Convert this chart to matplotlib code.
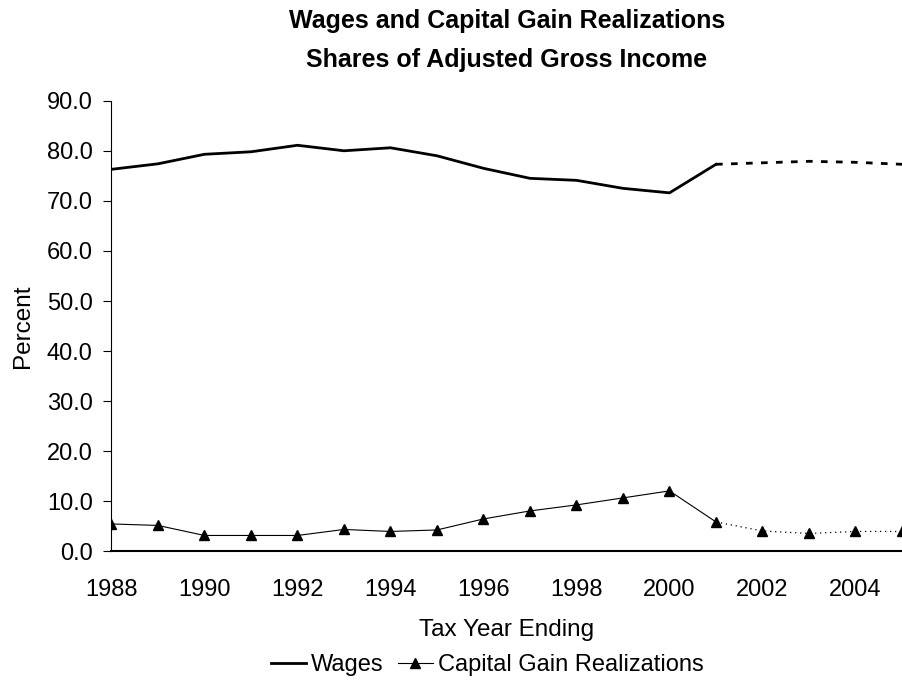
'''
Wages and capital gain realizations as shares of AGI.
'''

import matplotlib
matplotlib.use('Agg')
import matplotlib.pyplot as plt
from matplotlib.lines import Line2D

years = list(range(1988, 2006))
wages = [76.3, 77.4, 79.3, 79.8, 81.1, 80.0, 80.6, 79.0, 76.5, 74.5,
         74.1, 72.5, 71.6, 77.3, 77.6, 77.9, 77.7, 77.3]
cap_gains = [5.5, 5.2, 3.2, 3.2, 3.2, 4.4, 4.0, 4.3, 6.5, 8.1,
             9.3, 10.7, 12.1, 5.9, 4.1, 3.6, 4.0, 4.0]
split_year = 2001  # actual data up to here, projections after

title_lines = ['Wages and Capital Gain Realizations',
               'Shares of Adjusted Gross Income']
y_ticks = [0, 10, 20, 30, 40, 50, 60, 70, 80, 90]
x_ticks = list(range(1988, 2005, 2))


def main():
    plt.rcParams['font.family'] = ['Liberation Sans', 'DejaVu Sans']

    fig = plt.figure(figsize=(9.02, 6.85), dpi=100)
    ax = fig.add_axes([0.1236, 0.1949, 0.8764, 0.6581])

    k = years.index(split_year) + 1

    # Wages: solid for actuals, dashed for projections
    ax.plot(years[:k], wages[:k], color='black', lw=2.0)
    ax.plot(years[k - 1:], wages[k - 1:], color='black', lw=2.0,
            dashes=(2.4, 3.0))

    # Capital gains: thin line with triangles, dotted after 2001
    ax.plot(years[:k], cap_gains[:k], color='black', lw=0.8)
    ax.plot(years[k - 1:], cap_gains[k - 1:], color='black', lw=0.9,
            linestyle=(0, (1, 3)))
    ax.plot(years, cap_gains, linestyle='none', marker='^', color='black',
            markersize=7.5)

    ax.set_xlim(1988, 2005)
    ax.set_ylim(0, 90)
    ax.set_yticks(y_ticks)
    ax.set_yticklabels(['%.1f' % v for v in y_ticks])
    ax.set_xticks(x_ticks)
    ax.tick_params(axis='y', direction='out', length=5.5, width=0.8, pad=8,
                   labelsize=17)
    ax.tick_params(axis='x', length=0, pad=20, labelsize=17)

    for side in ['top', 'right']:
        ax.spines[side].set_visible(False)
    ax.spines['bottom'].set_linewidth(1.5)
    ax.spines['left'].set_linewidth(0.8)

    ax.set_xlabel('Tax Year Ending', fontsize=17.5, labelpad=13)
    ax.set_ylabel('Percent', fontsize=17.5, labelpad=9)

    # two title lines, centred over the plot area
    cx = 0.562
    fig.text(cx, 1 - 28 / 685, title_lines[0], ha='center', va='baseline',
             fontsize=18, fontweight='bold')
    fig.text(cx, 1 - 67 / 685, title_lines[1], ha='center', va='baseline',
             fontsize=18, fontweight='bold')

    handles = [
        Line2D([], [], color='black', lw=2.0),
        Line2D([], [], color='black', lw=0.8, marker='^', markersize=7.5),
    ]
    fig.legend(handles, ['Wages', 'Capital Gain Realizations'], loc='center',
               bbox_to_anchor=(0.54, 1 - 665 / 685), ncol=2, frameon=False,
               fontsize=17, handlelength=1.5, handletextpad=0.2,
               columnspacing=0.6)

    fig.savefig('out.png', dpi=100)


if __name__ == '__main__':
    main()
